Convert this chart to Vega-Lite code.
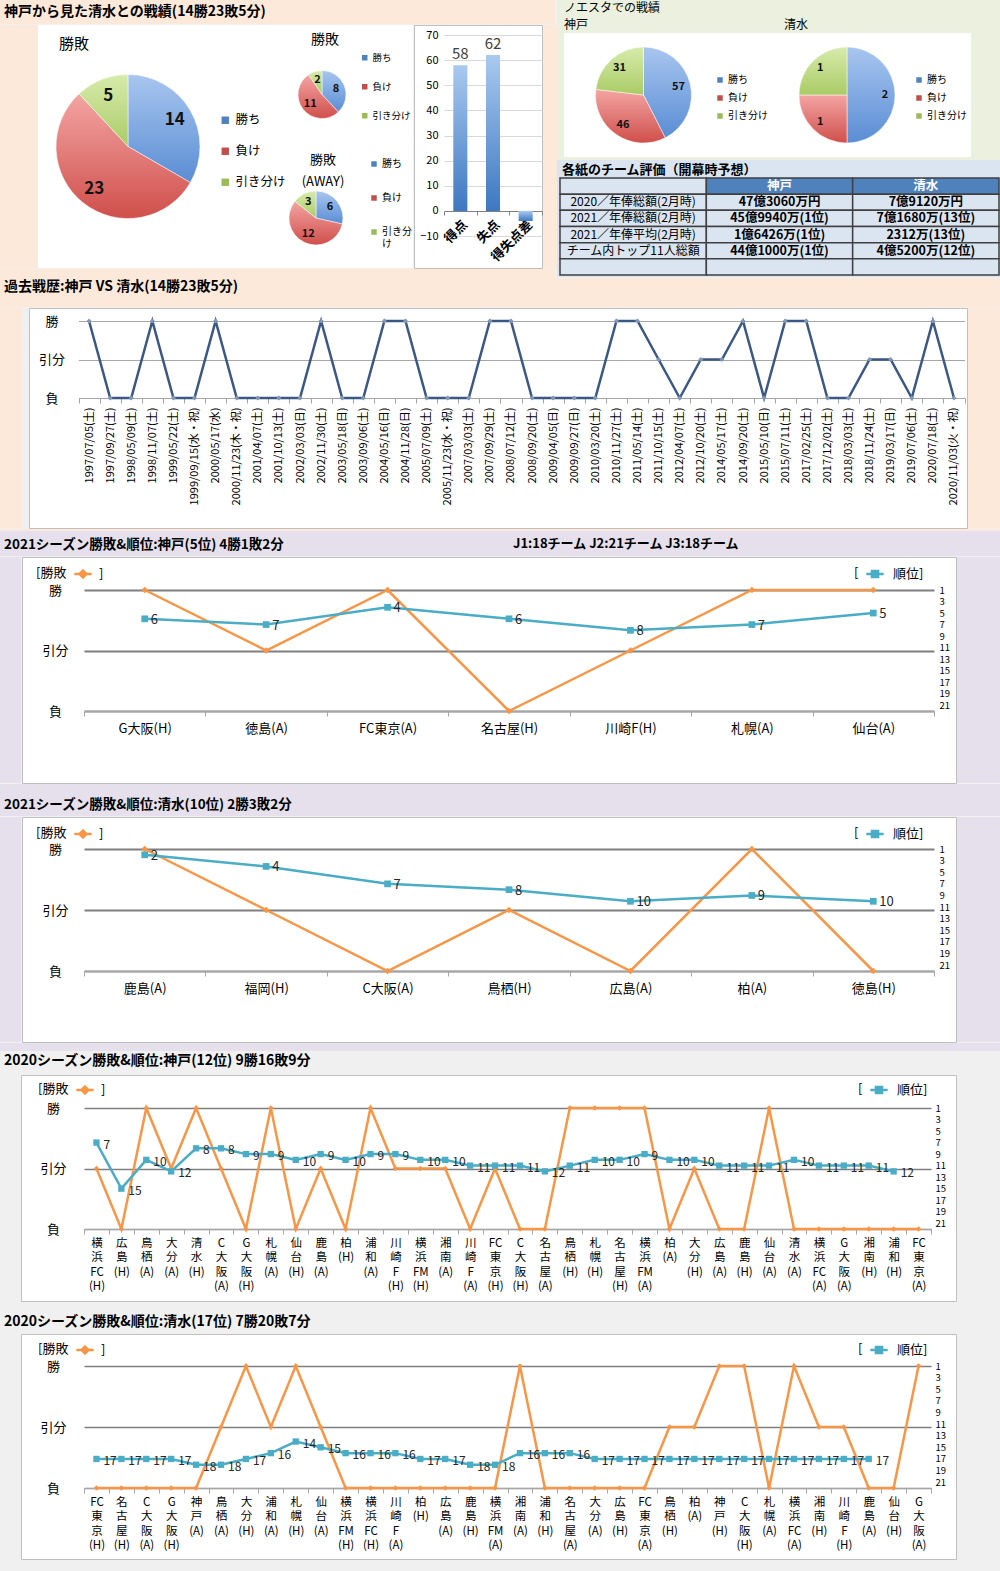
{
"$schema":"https://vega.github.io/schema/vega-lite/v6.json",
"background":"#f0f0f0",
"padding":0,
"spacing":0,
"resolve":{"scale":{"color":"independent","theta":"independent"}},
"config":{
  "font":"Noto Sans CJK JP",
  "view":{"stroke":null},
  "axis":{"labelColor":"#000","domainColor":"#a6a6a6","tickColor":"#a6a6a6"},
  "legend":{"labelColor":"#000","titleColor":"#000","titleFontWeight":"normal","padding":0},
  "title":{"color":"#000","fontWeight":"bold","fontSize":14,"anchor":"start","frame":"group","subtitleColor":"#000"}
},
"vconcat":[
 {"hconcat":[
   {"vconcat":[
     {"width":555,"height":24,"data":{"values":[]},"mark":"point","view":{"fill":"#fce9da","stroke":null},
      "title":{"text":"神戸から見た清水との戦績(14勝23敗5分)","offset":-19,"dx":4,"fontSize":14}},
     {"hconcat":[
       {"width":38,"height":243,"data":{"values":[]},"mark":"point","view":{"fill":"#fce9da","stroke":null}},
       {"width":180,"height":243,"view":{"fill":"white","stroke":null},
        "title":{"text":"勝敗","offset":-27,"dx":21,"fontSize":15,"fontWeight":"normal"},
        "data":{"values":[{"k":"勝ち","n":14},{"k":"負け","n":23},{"k":"引き分け","n":5}]},
        "transform":[{"window":[{"op":"row_number","as":"i"}]}],
        "encoding":{"theta":{"field":"n","type":"quantitative","stack":true},"order":{"field":"i","type":"quantitative"},"detail":{"field":"k"}},
        "layer":[
          {"mark":{"type":"arc","outerRadius":72,"stroke":"white","strokeWidth":0.5},
           "encoding":{"color":{"condition":[
              {"test":"datum.k === '勝ち'","value":{"gradient":"linear","x1":0,"y1":0,"x2":0,"y2":1,"stops":[{"offset":0,"color":"#a8c6ef"},{"offset":1,"color":"#5a8dd4"}]}},
              {"test":"datum.k === '負け'","value":{"gradient":"linear","x1":0,"y1":0,"x2":0,"y2":1,"stops":[{"offset":0,"color":"#f3a5a3"},{"offset":1,"color":"#d04f4b"}]}}],
              "value":{"gradient":"linear","x1":0,"y1":0,"x2":0,"y2":1,"stops":[{"offset":0,"color":"#d7ebab"},{"offset":1,"color":"#aacb66"}]}}}},
          {"mark":{"type":"text","radius":54,"fontSize":17,"fontWeight":"bold","color":"#111"},
           "encoding":{"text":{"field":"n","type":"quantitative"}}}
        ]},
       {"width":69,"height":243,"view":{"fill":"white","stroke":null},
        "data":{"values":[{"k":"勝ち"},{"k":"負け"},{"k":"引き分け"}]},
        "mark":{"type":"text","text":""},
        "encoding":{"color":{"field":"k","type":"nominal","scale":{"domain":["勝ち","負け","引き分け"],"range":["#4f81bd","#c0504d","#9bbb59"]},
          "legend":{"orient":"none","legendX":1,"legendY":89,"title":null,"symbolType":"square","symbolSize":55,"labelFontSize":12.5,"rowPadding":18,"labelOffset":4}}}},
       {"vconcat":[
         {"hconcat":[
           {"vconcat":[
             {"width":70,"height":24,"data":{"values":[]},"mark":"point","view":{"fill":"white","stroke":null},
              "title":{"text":"勝敗","offset":-22,"dx":24,"fontSize":14,"fontWeight":"normal"}},
             {"width":70,"height":91,"view":{"fill":"white","stroke":null},
              "data":{"values":[{"k":"勝ち","n":8},{"k":"負け","n":11},{"k":"引き分け","n":2}]},
              "transform":[{"window":[{"op":"row_number","as":"i"}]}],
              "encoding":{"theta":{"field":"n","type":"quantitative","stack":true},"order":{"field":"i","type":"quantitative"},"detail":{"field":"k"}},
              "layer":[
                {"mark":{"type":"arc","outerRadius":24,"stroke":"white","strokeWidth":0.5},
                 "encoding":{"color":{"condition":[
                    {"test":"datum.k === '勝ち'","value":{"gradient":"linear","x1":0,"y1":0,"x2":0,"y2":1,"stops":[{"offset":0,"color":"#a8c6ef"},{"offset":1,"color":"#5a8dd4"}]}},
                    {"test":"datum.k === '負け'","value":{"gradient":"linear","x1":0,"y1":0,"x2":0,"y2":1,"stops":[{"offset":0,"color":"#f3a5a3"},{"offset":1,"color":"#d04f4b"}]}}],
                    "value":{"gradient":"linear","x1":0,"y1":0,"x2":0,"y2":1,"stops":[{"offset":0,"color":"#d7ebab"},{"offset":1,"color":"#aacb66"}]}}}},
                {"mark":{"type":"text","radius":15,"fontSize":11,"fontWeight":"bold","color":"#111"},
                 "encoding":{"text":{"field":"n","type":"quantitative"}}}
              ]}
           ],"spacing":0,"resolve":{"scale":{"color":"independent","theta":"independent"}}},
           {"width":56,"height":115,"view":{"fill":"white","stroke":null},
            "data":{"values":[{"k":"勝ち"},{"k":"負け"},{"k":"引き分け"}]},
            "mark":{"type":"text","text":""},
            "encoding":{"color":{"field":"k","type":"nominal","scale":{"domain":["勝ち","負け","引き分け"],"range":["#4f81bd","#c0504d","#9bbb59"]},
              "legend":{"orient":"none","legendX":3,"legendY":28,"title":null,"symbolType":"square","symbolSize":30,"labelFontSize":9.5,"rowPadding":18,"labelOffset":3}}}}
         ],"spacing":0,"resolve":{"scale":{"color":"independent","theta":"independent"}}},
         {"hconcat":[
           {"vconcat":[
             {"width":58,"height":28,"data":{"values":[]},"mark":"point","view":{"fill":"white","stroke":null},
              "title":{"text":"勝敗","anchor":"middle","offset":-27,"dx":7,"fontSize":13,"fontWeight":"normal"}},
             {"width":58,"height":100,"view":{"fill":"white","stroke":null},
              "title":{"text":"(AWAY)","anchor":"middle","offset":-21,"dx":7,"fontSize":13,"fontWeight":"normal"},
              "data":{"values":[{"k":"勝ち","n":6},{"k":"負け","n":12},{"k":"引き分け","n":3}]},
              "transform":[{"window":[{"op":"row_number","as":"i"}]}],
              "encoding":{"theta":{"field":"n","type":"quantitative","stack":true},"order":{"field":"i","type":"quantitative"},"detail":{"field":"k"}},
              "layer":[
                {"mark":{"type":"arc","outerRadius":27,"stroke":"white","strokeWidth":0.5},
                 "encoding":{"color":{"condition":[
                    {"test":"datum.k === '勝ち'","value":{"gradient":"linear","x1":0,"y1":0,"x2":0,"y2":1,"stops":[{"offset":0,"color":"#a8c6ef"},{"offset":1,"color":"#5a8dd4"}]}},
                    {"test":"datum.k === '負け'","value":{"gradient":"linear","x1":0,"y1":0,"x2":0,"y2":1,"stops":[{"offset":0,"color":"#f3a5a3"},{"offset":1,"color":"#d04f4b"}]}}],
                    "value":{"gradient":"linear","x1":0,"y1":0,"x2":0,"y2":1,"stops":[{"offset":0,"color":"#d7ebab"},{"offset":1,"color":"#aacb66"}]}}}},
                {"mark":{"type":"text","radius":18,"fontSize":11,"fontWeight":"bold","color":"#111"},
                 "encoding":{"text":{"field":"n","type":"quantitative"}}}
              ]}
           ],"spacing":0,"resolve":{"scale":{"color":"independent","theta":"independent"}}},
           {"width":68,"height":128,"view":{"fill":"white","stroke":null},
            "data":{"values":[{"k":"勝ち"},{"k":"負け"},{"k":"引き分け"}]},
            "mark":{"type":"text","text":""},
            "encoding":{"color":{"field":"k","type":"nominal","scale":{"domain":["勝ち","負け","引き分け"],"range":["#4f81bd","#c0504d","#9bbb59"]},
              "legend":{"orient":"none","legendX":24,"legendY":19,"title":null,"symbolType":"square","symbolSize":30,"labelFontSize":10,"rowPadding":24,"labelOffset":3,"labelExpr":"datum.label == '引き分け' ? ['引き分','け'] : datum.label"}}}}
         ],"spacing":0,"resolve":{"scale":{"color":"independent","theta":"independent"}}}
       ],"spacing":0,"resolve":{"scale":{"color":"independent","theta":"independent"}}},
       {"width":128,"height":243,"view":{"fill":"white","stroke":"#bfbfbf"},
        "data":{"values":[{"c":"得点","v":58},{"c":"失点","v":62},{"c":"得失点差","v":-4}]},
        "encoding":{
          "x":{"field":"c","type":"nominal","sort":null,"scale":{"type":"band","range":[30,128],"paddingInner":0,"paddingOuter":0},
               "axis":{"title":null,"offset":-57,"labelAngle":-45,"labelFontSize":13,"labelFontWeight":"bold","labelPadding":3,"tickBand":"extent","tickSize":4,"domainColor":"#808080","tickColor":"#808080","grid":false,"labelOverlap":false}},
          "y":{"field":"v","type":"quantitative","scale":{"domain":[-10,70],"range":[211,10],"nice":false,"zero":false},
               "axis":{"title":null,"offset":-30,"values":[-10,0,10,20,30,40,50,60,70],"labelFontSize":11,"labelPadding":6,"ticks":false,"domain":false,"gridColor":"#d9d9d9","labelOverlap":false}}
        },
        "layer":[
          {"mark":{"type":"bar","width":{"band":0.43},"color":{"gradient":"linear","x1":0,"y1":0,"x2":0,"y2":1,"stops":[{"offset":0,"color":"#a9c9f0"},{"offset":1,"color":"#3d78c1"}]}}},
          {"transform":[{"filter":"datum.v > 0"}],"mark":{"type":"text","dy":-11,"fontSize":15,"color":"#404040"},"encoding":{"text":{"field":"v","type":"quantitative"}}}
        ]},
       {"width":14,"height":243,"data":{"values":[]},"mark":"point","view":{"fill":"#fce9da","stroke":null}}
     ],"spacing":0,"resolve":{"scale":{"color":"independent","theta":"independent"}}},
     {"width":555,"height":9,"data":{"values":[]},"mark":"point","view":{"fill":"#fce9da","stroke":null}}
   ],"spacing":0,"resolve":{"scale":{"color":"independent","theta":"independent"}}},
   {"vconcat":[
     {"hconcat":[
       {"width":223,"height":33,"data":{"values":[]},"mark":"point","view":{"fill":"#ebf1de","stroke":null},
        "title":{"text":"ノエスタでの戦績","subtitle":"神戸","offset":-32,"dx":7,"fontSize":12,"fontWeight":"normal","subtitleFontSize":12,"subtitlePadding":5}},
       {"width":222,"height":33,"data":{"values":[]},"mark":"point","view":{"fill":"#ebf1de","stroke":null},
        "title":{"text":"清水","offset":-32,"dx":4,"fontSize":12,"fontWeight":"normal"}}
     ],"spacing":0,"resolve":{"scale":{"color":"independent","theta":"independent"}}},
     {"hconcat":[
       {"width":7,"height":124,"data":{"values":[]},"mark":"point","view":{"fill":"#ebf1de","stroke":null}},
       {"width":8,"height":124,"data":{"values":[]},"mark":"point","view":{"fill":"white","stroke":null}},
       {"width":143,"height":124,"view":{"fill":"white","stroke":null},
        "data":{"values":[{"k":"勝ち","n":57},{"k":"負け","n":46},{"k":"引き分け","n":31}]},
        "transform":[{"window":[{"op":"row_number","as":"i"}]}],
        "encoding":{"theta":{"field":"n","type":"quantitative","stack":true},"order":{"field":"i","type":"quantitative"},"detail":{"field":"k"}},
        "layer":[
          {"mark":{"type":"arc","outerRadius":48,"stroke":"white","strokeWidth":0.5},
           "encoding":{"color":{"condition":[
              {"test":"datum.k === '勝ち'","value":{"gradient":"linear","x1":0,"y1":0,"x2":0,"y2":1,"stops":[{"offset":0,"color":"#a8c6ef"},{"offset":1,"color":"#5a8dd4"}]}},
              {"test":"datum.k === '負け'","value":{"gradient":"linear","x1":0,"y1":0,"x2":0,"y2":1,"stops":[{"offset":0,"color":"#f3a5a3"},{"offset":1,"color":"#d04f4b"}]}}],
              "value":{"gradient":"linear","x1":0,"y1":0,"x2":0,"y2":1,"stops":[{"offset":0,"color":"#d7ebab"},{"offset":1,"color":"#aacb66"}]}}}},
          {"mark":{"type":"text","radius":36,"fontSize":11,"fontWeight":"bold","color":"#111"},
           "encoding":{"text":{"field":"n","type":"quantitative"}}}
        ]},
       {"width":65,"height":124,"view":{"fill":"white","stroke":null},
        "data":{"values":[{"k":"勝ち"},{"k":"負け"},{"k":"引き分け"}]},
        "mark":{"type":"text","text":""},
        "encoding":{"color":{"field":"k","type":"nominal","scale":{"domain":["勝ち","負け","引き分け"],"range":["#4f81bd","#c0504d","#9bbb59"]},
          "legend":{"orient":"none","legendX":0,"legendY":42,"title":null,"symbolType":"square","symbolSize":30,"labelFontSize":10,"rowPadding":8,"labelOffset":3}}}},
       {"width":134,"height":124,"view":{"fill":"white","stroke":null},
        "data":{"values":[{"k":"勝ち","n":2},{"k":"負け","n":1},{"k":"引き分け","n":1}]},
        "transform":[{"window":[{"op":"row_number","as":"i"}]}],
        "encoding":{"theta":{"field":"n","type":"quantitative","stack":true},"order":{"field":"i","type":"quantitative"},"detail":{"field":"k"}},
        "layer":[
          {"mark":{"type":"arc","outerRadius":48,"stroke":"white","strokeWidth":0.5},
           "encoding":{"color":{"condition":[
              {"test":"datum.k === '勝ち'","value":{"gradient":"linear","x1":0,"y1":0,"x2":0,"y2":1,"stops":[{"offset":0,"color":"#a8c6ef"},{"offset":1,"color":"#5a8dd4"}]}},
              {"test":"datum.k === '負け'","value":{"gradient":"linear","x1":0,"y1":0,"x2":0,"y2":1,"stops":[{"offset":0,"color":"#f3a5a3"},{"offset":1,"color":"#d04f4b"}]}}],
              "value":{"gradient":"linear","x1":0,"y1":0,"x2":0,"y2":1,"stops":[{"offset":0,"color":"#d7ebab"},{"offset":1,"color":"#aacb66"}]}}}},
          {"mark":{"type":"text","radius":38,"fontSize":11,"fontWeight":"bold","color":"#111"},
           "encoding":{"text":{"field":"n","type":"quantitative"}}}
        ]},
       {"width":57,"height":124,"view":{"fill":"white","stroke":null},
        "data":{"values":[{"k":"勝ち"},{"k":"負け"},{"k":"引き分け"}]},
        "mark":{"type":"text","text":""},
        "encoding":{"color":{"field":"k","type":"nominal","scale":{"domain":["勝ち","負け","引き分け"],"range":["#4f81bd","#c0504d","#9bbb59"]},
          "legend":{"orient":"none","legendX":0,"legendY":42,"title":null,"symbolType":"square","symbolSize":30,"labelFontSize":10,"rowPadding":8,"labelOffset":3}}}},
       {"width":31,"height":124,"data":{"values":[]},"mark":"point","view":{"fill":"#ebf1de","stroke":null}}
     ],"spacing":0,"resolve":{"scale":{"color":"independent","theta":"independent"}}},
     {"width":445,"height":3,"data":{"values":[]},"mark":"point","view":{"fill":"#ebf1de","stroke":null}},
     {"width":445,"height":117,"view":{"fill":"#dbe5f1","stroke":null},
      "title":{"text":"各紙のチーム評価（開幕時予想）","offset":-17,"dx":5,"fontSize":13},
      "data":{"values":[
        {"row":"h","col":"c1","t":""},{"row":"h","col":"c2","t":"神戸"},{"row":"h","col":"c3","t":"清水"},
        {"row":"r1","col":"c1","t":"2020／年俸総額(2月時)"},{"row":"r1","col":"c2","t":"47億3060万円"},{"row":"r1","col":"c3","t":"7億9120万円"},
        {"row":"r2","col":"c1","t":"2021／年俸総額(2月時)"},{"row":"r2","col":"c2","t":"45億9940万(1位)"},{"row":"r2","col":"c3","t":"7億1680万(13位)"},
        {"row":"r3","col":"c1","t":"2021／年俸平均(2月時)"},{"row":"r3","col":"c2","t":"1億6426万(1位)"},{"row":"r3","col":"c3","t":"2312万(13位)"},
        {"row":"r4","col":"c1","t":"チーム内トップ11人総額"},{"row":"r4","col":"c2","t":"44億1000万(1位)"},{"row":"r4","col":"c3","t":"4億5200万(12位)"},
        {"row":"r5","col":"c1","t":""},{"row":"r5","col":"c2","t":""},{"row":"r5","col":"c3","t":""}
      ]},
      "encoding":{
        "x":{"field":"col","type":"nominal","scale":{"type":"band","domain":["c1","c2","c3"],"range":[3,442],"paddingInner":0,"paddingOuter":0},"axis":null},
        "y":{"field":"row","type":"nominal","scale":{"type":"band","domain":["h","r1","r2","r3","r4","r5"],"range":[18,115],"paddingInner":0,"paddingOuter":0},"axis":null}
      },
      "layer":[
        {"mark":{"type":"rect","stroke":"#404040","strokeWidth":1.5},
         "encoding":{"color":{"condition":{"test":"datum.row === 'h' && datum.col !== 'c1'","value":"#4f81bd"},"value":"#dbe5f1"}}},
        {"transform":[{"filter":"datum.col === 'c1'"}],"mark":{"type":"text","fontSize":12,"color":"#000"},"encoding":{"text":{"field":"t"}}},
        {"transform":[{"filter":"datum.col !== 'c1'"}],"mark":{"type":"text","fontSize":12.5,"fontWeight":"bold"},
         "encoding":{"text":{"field":"t"},"color":{"condition":{"test":"datum.row === 'h'","value":"white"},"value":"#000"}}}
      ]}
   ],"spacing":0,"resolve":{"scale":{"color":"independent","theta":"independent"}}}
 ],"spacing":0,"resolve":{"scale":{"color":"independent","theta":"independent"}}},

 {"width":1000,"height":29,"data":{"values":[]},"mark":"point","view":{"fill":"#fce9da","stroke":null},
  "title":{"text":"過去戦歴:神戸 VS 清水(14勝23敗5分)","offset":-16,"dx":4,"fontSize":14}},

 {"hconcat":[
   {"width":22,"height":220,"data":{"values":[]},"mark":"point","view":{"fill":"#fce9da","stroke":null}},
   {"width":938,"height":220,"view":{"fill":"white","stroke":"#bfbfbf"},
    "data":{"values":[
      {"d":"1997/07/05(土)","r":1},{"d":"1997/09/27(土)","r":-1},{"d":"1998/05/09(土)","r":-1},{"d":"1998/11/07(土)","r":1},
      {"d":"1999/05/22(土)","r":-1},{"d":"1999/09/15(水・祝)","r":-1},{"d":"2000/05/17(水)","r":1},{"d":"2000/11/23(木・祝)","r":-1},
      {"d":"2001/04/07(土)","r":-1},{"d":"2001/10/13(土)","r":-1},{"d":"2002/03/03(日)","r":-1},{"d":"2002/11/30(土)","r":1},
      {"d":"2003/05/18(日)","r":-1},{"d":"2003/09/06(土)","r":-1},{"d":"2004/05/16(日)","r":1},{"d":"2004/11/28(日)","r":1},
      {"d":"2005/07/09(土)","r":-1},{"d":"2005/11/23(水・祝)","r":-1},{"d":"2007/03/03(土)","r":-1},{"d":"2007/09/29(土)","r":1},
      {"d":"2008/07/12(土)","r":1},{"d":"2008/09/20(土)","r":-1},{"d":"2009/04/05(日)","r":-1},{"d":"2009/09/27(日)","r":-1},
      {"d":"2010/03/20(土)","r":-1},{"d":"2010/11/27(土)","r":1},{"d":"2011/05/14(土)","r":1},{"d":"2011/10/15(土)","r":0},
      {"d":"2012/04/07(土)","r":-1},{"d":"2012/10/20(土)","r":0},{"d":"2014/05/17(土)","r":0},{"d":"2014/09/20(土)","r":1},
      {"d":"2015/05/10(日)","r":-1},{"d":"2015/07/11(土)","r":1},{"d":"2017/02/25(土)","r":1},{"d":"2017/12/02(土)","r":-1},
      {"d":"2018/03/03(土)","r":-1},{"d":"2018/11/24(土)","r":0},{"d":"2019/03/17(日)","r":0},{"d":"2019/07/06(土)","r":-1},
      {"d":"2020/07/18(土)","r":1},{"d":"2020/11/03(火・祝)","r":-1}
    ]},
    "encoding":{
      "x":{"field":"d","type":"nominal","sort":null,"scale":{"type":"band","range":[49.5,935.5],"paddingInner":0,"paddingOuter":0},
           "axis":{"title":null,"offset":-130,"labelAngle":-90,"labelFontSize":11,"labelPadding":4,"tickBand":"extent","tickSize":5,"labelOverlap":false,"grid":false}},
      "y":{"field":"r","type":"quantitative","scale":{"domain":[-1,1],"range":[90,13],"nice":false,"zero":false},
           "axis":{"title":null,"offset":-49.5,"values":[-1,0,1],"labelExpr":"datum.value == 1 ? '勝' : datum.value == 0 ? '引分' : '負'","labelFontSize":13,"labelAlign":"center","labelPadding":27,"ticks":false,"domain":false,"gridColor":"#a6a6a6","gridWidth":1,"labelOverlap":false}}
    },
    "layer":[
      {"mark":{"type":"line","color":"#3b5783","strokeWidth":2.5}},
      {"mark":{"type":"point","shape":"diamond","filled":true,"size":25,"color":"#8197b5","opacity":1}}
    ]},
   {"width":40,"height":220,"data":{"values":[]},"mark":"point","view":{"fill":"#fce9da","stroke":null}}
 ],"spacing":0,"resolve":{"scale":{"color":"independent","theta":"independent"}}},

 {"width":1000,"height":2,"data":{"values":[]},"mark":"point","view":{"fill":"#fce9da","stroke":null}},

 {"hconcat":[
   {"width":500,"height":25,"data":{"values":[]},"mark":"point","view":{"fill":"#e5e0ec","stroke":null},
    "title":{"text":"2021シーズン勝敗&順位:神戸(5位) 4勝1敗2分","offset":-20,"dx":4,"fontSize":13.5}},
   {"width":500,"height":25,"data":{"values":[]},"mark":"point","view":{"fill":"#e5e0ec","stroke":null},
    "title":{"text":"J1:18チーム  J2:21チーム  J3:18チーム","offset":-20,"dx":13,"fontSize":13}}
 ],"spacing":0,"resolve":{"scale":{"color":"independent","theta":"independent"}}},

 {"hconcat":[
   {"width":21,"height":226,"data":{"values":[]},"mark":"point","view":{"fill":"#e5e0ec","stroke":null}},
   {"width":934,"height":226,"view":{"fill":"white","stroke":"#bfbfbf"},
    "data":{"values":[
      {"g":"G大阪(H)","r":1,"k":6},{"g":"徳島(A)","r":0,"k":7},{"g":"FC東京(A)","r":1,"k":4},{"g":"名古屋(H)","r":-1,"k":6},
      {"g":"川崎F(H)","r":0,"k":8},{"g":"札幌(A)","r":1,"k":7},{"g":"仙台(A)","r":1,"k":5}
    ]},
    "encoding":{"x":{"field":"g","type":"nominal","sort":null,"scale":{"type":"band","range":[62,912],"paddingInner":0,"paddingOuter":0},
      "axis":{"title":null,"offset":-72,"labelAngle":0,"labelFontSize":13,"labelPadding":6,"tickBand":"extent","tickSize":5,"grid":false,"labelOverlap":false}}},
    "layer":[
      {"encoding":{
         "y":{"field":"r","type":"quantitative","scale":{"domain":[-1,1],"range":[154,33],"nice":false,"zero":false},
              "axis":{"title":null,"orient":"left","offset":-62,"values":[-1,0,1],"labelExpr":"datum.value == 1 ? '勝' : datum.value == 0 ? '引分' : '負'","labelFontSize":13,"labelAlign":"center","labelPadding":29,"ticks":false,"domain":false,"gridColor":"#7f7f7f","gridWidth":2,"labelOverlap":false}},
         "color":{"datum":"勝敗","type":"nominal","scale":{"range":["#f79646"]},
              "legend":{"orient":"none","legendX":14,"legendY":7,"title":"[勝敗","titleOrient":"left","titleFontSize":13,"titlePadding":6,"labelExpr":"']'","labelFontSize":13,"labelOffset":6,"symbolType":"M-1,0H1M0,-0.4L0.4,0L0,0.4L-0.4,0Z","symbolSize":300,"symbolStrokeWidth":2.5,"symbolStrokeColor":"#f79646","symbolFillColor":"#f79646"}}},
       "layer":[{"mark":{"type":"line","strokeWidth":2.5}},{"mark":{"type":"point","shape":"diamond","filled":true,"size":45,"opacity":1}}]},
      {"transform":[{"filter":"isValid(datum.k)"}],
       "encoding":{
         "y":{"field":"k","type":"quantitative","scale":{"domain":[1,22],"reverse":true,"range":[154,33],"nice":false,"zero":false},
              "axis":{"title":null,"orient":"right","offset":-22,"values":[1,3,5,7,9,11,13,15,17,19,21],"labelFontSize":9.5,"labelPadding":5,"ticks":false,"domain":false,"gridColor":"#a6a6a6","gridWidth":1,"labelOverlap":false}},
         "color":{"datum":"順位","type":"nominal","scale":{"range":["#4bacc6"]},
              "legend":{"orient":"none","legendX":832,"legendY":7,"title":"[","titleOrient":"left","titleFontSize":13,"titlePadding":6,"labelExpr":"'順位]'","labelFontSize":13,"labelOffset":8,"symbolType":"M-1,0H1M-0.35,-0.35H0.35V0.35H-0.35Z","symbolSize":300,"symbolStrokeWidth":2.5,"symbolStrokeColor":"#4bacc6","symbolFillColor":"#4bacc6"}}},
       "layer":[{"mark":{"type":"line","strokeWidth":2.5}},{"mark":{"type":"point","shape":"square","filled":true,"size":45,"opacity":1}},
                {"mark":{"type":"text","align":"left","dx":6,"dy":1,"fontSize":13},"encoding":{"text":{"field":"k","type":"quantitative"},"color":{"value":"#262626"}}}]}
    ],
    "resolve":{"scale":{"y":"independent","color":"independent"}}},
   {"width":45,"height":226,"data":{"values":[]},"mark":"point","view":{"fill":"#e5e0ec","stroke":null}}
 ],"spacing":0,"resolve":{"scale":{"color":"independent","theta":"independent"}}},

 {"width":1000,"height":32,"data":{"values":[]},"mark":"point","view":{"fill":"#e5e0ec","stroke":null},
  "title":{"text":"2021シーズン勝敗&順位:清水(10位) 2勝3敗2分","offset":-27,"dx":4,"fontSize":13.5}},

 {"hconcat":[
   {"width":21,"height":225,"data":{"values":[]},"mark":"point","view":{"fill":"#e5e0ec","stroke":null}},
   {"width":934,"height":225,"view":{"fill":"white","stroke":"#bfbfbf"},
    "data":{"values":[
      {"g":"鹿島(A)","r":1,"k":2},{"g":"福岡(H)","r":0,"k":4},{"g":"C大阪(A)","r":-1,"k":7},{"g":"鳥栖(H)","r":0,"k":8},
      {"g":"広島(A)","r":-1,"k":10},{"g":"柏(A)","r":1,"k":9},{"g":"徳島(H)","r":-1,"k":10}
    ]},
    "encoding":{"x":{"field":"g","type":"nominal","sort":null,"scale":{"type":"band","range":[62,912],"paddingInner":0,"paddingOuter":0},
      "axis":{"title":null,"offset":-71,"labelAngle":0,"labelFontSize":13,"labelPadding":6,"tickBand":"extent","tickSize":5,"grid":false,"labelOverlap":false}}},
    "layer":[
      {"encoding":{
         "y":{"field":"r","type":"quantitative","scale":{"domain":[-1,1],"range":[154,32],"nice":false,"zero":false},
              "axis":{"title":null,"orient":"left","offset":-62,"values":[-1,0,1],"labelExpr":"datum.value == 1 ? '勝' : datum.value == 0 ? '引分' : '負'","labelFontSize":13,"labelAlign":"center","labelPadding":29,"ticks":false,"domain":false,"gridColor":"#7f7f7f","gridWidth":2,"labelOverlap":false}},
         "color":{"datum":"勝敗","type":"nominal","scale":{"range":["#f79646"]},
              "legend":{"orient":"none","legendX":14,"legendY":7,"title":"[勝敗","titleOrient":"left","titleFontSize":13,"titlePadding":6,"labelExpr":"']'","labelFontSize":13,"labelOffset":6,"symbolType":"M-1,0H1M0,-0.4L0.4,0L0,0.4L-0.4,0Z","symbolSize":300,"symbolStrokeWidth":2.5,"symbolStrokeColor":"#f79646","symbolFillColor":"#f79646"}}},
       "layer":[{"mark":{"type":"line","strokeWidth":2.5}},{"mark":{"type":"point","shape":"diamond","filled":true,"size":45,"opacity":1}}]},
      {"transform":[{"filter":"isValid(datum.k)"}],
       "encoding":{
         "y":{"field":"k","type":"quantitative","scale":{"domain":[1,22],"reverse":true,"range":[154,32],"nice":false,"zero":false},
              "axis":{"title":null,"orient":"right","offset":-22,"values":[1,3,5,7,9,11,13,15,17,19,21],"labelFontSize":9.5,"labelPadding":5,"ticks":false,"domain":false,"gridColor":"#a6a6a6","gridWidth":1,"labelOverlap":false}},
         "color":{"datum":"順位","type":"nominal","scale":{"range":["#4bacc6"]},
              "legend":{"orient":"none","legendX":832,"legendY":7,"title":"[","titleOrient":"left","titleFontSize":13,"titlePadding":6,"labelExpr":"'順位]'","labelFontSize":13,"labelOffset":8,"symbolType":"M-1,0H1M-0.35,-0.35H0.35V0.35H-0.35Z","symbolSize":300,"symbolStrokeWidth":2.5,"symbolStrokeColor":"#4bacc6","symbolFillColor":"#4bacc6"}}},
       "layer":[{"mark":{"type":"line","strokeWidth":2.5}},{"mark":{"type":"point","shape":"square","filled":true,"size":45,"opacity":1}},
                {"mark":{"type":"text","align":"left","dx":6,"dy":1,"fontSize":13},"encoding":{"text":{"field":"k","type":"quantitative"},"color":{"value":"#262626"}}}]}
    ],
    "resolve":{"scale":{"y":"independent","color":"independent"}}},
   {"width":45,"height":225,"data":{"values":[]},"mark":"point","view":{"fill":"#e5e0ec","stroke":null}}
 ],"spacing":0,"resolve":{"scale":{"color":"independent","theta":"independent"}}},

 {"width":1000,"height":8,"data":{"values":[]},"mark":"point","view":{"fill":"#e5e0ec","stroke":null}},
 {"width":1000,"height":23,"data":{"values":[]},"mark":"point","view":{"fill":"#f0f0f0","stroke":null},
  "title":{"text":"2020シーズン勝敗&順位:神戸(12位) 9勝16敗9分","offset":-17,"dx":4,"fontSize":14}},

 {"hconcat":[
   {"width":20,"height":226,"data":{"values":[]},"mark":"point","view":{"fill":"#f0f0f0","stroke":null}},
   {"width":935,"height":226,"view":{"fill":"white","stroke":"#bfbfbf"},
    "data":{"values":[
      {"g":"横浜FC(H)","r":0,"k":7},{"g":"広島(H)","r":-1,"k":15},{"g":"鳥栖(A)","r":1,"k":10},{"g":"大分(A)","r":0,"k":12},
      {"g":"清水(H)","r":1,"k":8},{"g":"C大阪(A)","r":0,"k":8},{"g":"G大阪(H)","r":-1,"k":9},{"g":"札幌(A)","r":1,"k":9},
      {"g":"仙台(H)","r":-1,"k":10},{"g":"鹿島(A)","r":0,"k":9},{"g":"柏(H)","r":-1,"k":10},{"g":"浦和(A)","r":1,"k":9},
      {"g":"川崎F(H)","r":0,"k":9},{"g":"横浜FM(H)","r":0,"k":10},{"g":"湘南(A)","r":0,"k":10},{"g":"川崎F(A)","r":-1,"k":11},
      {"g":"FC東京(H)","r":0,"k":11},{"g":"C大阪(H)","r":-1,"k":11},{"g":"名古屋(A)","r":-1,"k":12},{"g":"鳥栖(H)","r":1,"k":11},
      {"g":"札幌(H)","r":1,"k":10},{"g":"名古屋(H)","r":1,"k":10},{"g":"横浜FM(A)","r":1,"k":9},{"g":"柏(A)","r":-1,"k":10},
      {"g":"大分(H)","r":0,"k":10},{"g":"広島(A)","r":-1,"k":11},{"g":"鹿島(H)","r":-1,"k":11},{"g":"仙台(A)","r":1,"k":11},
      {"g":"清水(A)","r":-1,"k":10},{"g":"横浜FC(A)","r":-1,"k":11},{"g":"G大阪(A)","r":-1,"k":11},{"g":"湘南(H)","r":-1,"k":11},
      {"g":"浦和(H)","r":-1,"k":12},{"g":"FC東京(A)","r":-1,"k":null}
    ]},
    "encoding":{"x":{"field":"g","type":"nominal","sort":null,"scale":{"type":"band","range":[63,910],"paddingInner":0,"paddingOuter":0},
      "axis":{"title":null,"offset":-72,"labelAngle":0,"labelFontSize":11.5,"labelLineHeight":14.5,"labelPadding":3,"tickBand":"extent","tickSize":5,"grid":false,"labelOverlap":false,
              "labelExpr":"split(replace(replace(replace(replace(datum.label, regexp('([^ -~])','g'), '|$1|'), regexp('[(]','g'), '|('), regexp('[|]+','g'), '|'), regexp('^[|]|[|]$','g'), ''), '|')"}}},
    "layer":[
      {"encoding":{
         "y":{"field":"r","type":"quantitative","scale":{"domain":[-1,1],"range":[154,33],"nice":false,"zero":false},
              "axis":{"title":null,"orient":"left","offset":-63,"values":[-1,0,1],"labelExpr":"datum.value == 1 ? '勝' : datum.value == 0 ? '引分' : '負'","labelFontSize":13,"labelAlign":"center","labelPadding":31,"ticks":false,"domain":false,"gridColor":"#7f7f7f","gridWidth":1.5,"labelOverlap":false}},
         "color":{"datum":"勝敗","type":"nominal","scale":{"range":["#f79646"]},
              "legend":{"orient":"none","legendX":17,"legendY":5,"title":"[勝敗","titleOrient":"left","titleFontSize":13,"titlePadding":6,"labelExpr":"']'","labelFontSize":13,"labelOffset":6,"symbolType":"M-1,0H1M0,-0.4L0.4,0L0,0.4L-0.4,0Z","symbolSize":300,"symbolStrokeWidth":2.5,"symbolStrokeColor":"#f79646","symbolFillColor":"#f79646"}}},
       "layer":[{"mark":{"type":"line","strokeWidth":2.5}},{"mark":{"type":"point","shape":"diamond","filled":true,"size":30,"opacity":1}}]},
      {"transform":[{"filter":"isValid(datum.k)"}],
       "encoding":{
         "y":{"field":"k","type":"quantitative","scale":{"domain":[1,22],"reverse":true,"range":[154,33],"nice":false,"zero":false},
              "axis":{"title":null,"orient":"right","offset":-25,"values":[1,3,5,7,9,11,13,15,17,19,21],"labelFontSize":9.5,"labelPadding":4,"ticks":false,"domain":false,"gridColor":"#a6a6a6","gridWidth":1,"labelOverlap":false}},
         "color":{"datum":"順位","type":"nominal","scale":{"range":["#4bacc6"]},
              "legend":{"orient":"none","legendX":837,"legendY":5,"title":"[","titleOrient":"left","titleFontSize":13,"titlePadding":6,"labelExpr":"'順位]'","labelFontSize":13,"labelOffset":8,"symbolType":"M-1,0H1M-0.35,-0.35H0.35V0.35H-0.35Z","symbolSize":300,"symbolStrokeWidth":2.5,"symbolStrokeColor":"#4bacc6","symbolFillColor":"#4bacc6"}}},
       "layer":[{"mark":{"type":"line","strokeWidth":2.5}},{"mark":{"type":"point","shape":"square","filled":true,"size":40,"opacity":1}},
                {"mark":{"type":"text","align":"left","dx":7,"dy":2,"fontSize":12},"encoding":{"text":{"field":"k","type":"quantitative"},"color":{"value":"#262626"}}}]}
    ],
    "resolve":{"scale":{"y":"independent","color":"independent"}}},
   {"width":45,"height":226,"data":{"values":[]},"mark":"point","view":{"fill":"#f0f0f0","stroke":null}}
 ],"spacing":0,"resolve":{"scale":{"color":"independent","theta":"independent"}}},

 {"width":1000,"height":31,"data":{"values":[]},"mark":"point","view":{"fill":"#f0f0f0","stroke":null},
  "title":{"text":"2020シーズン勝敗&順位:清水(17位) 7勝20敗7分","offset":-27,"dx":4,"fontSize":14}},

 {"hconcat":[
   {"width":20,"height":225,"data":{"values":[]},"mark":"point","view":{"fill":"#f0f0f0","stroke":null}},
   {"width":935,"height":225,"view":{"fill":"white","stroke":"#bfbfbf"},
    "data":{"values":[
      {"g":"FC東京(H)","r":-1,"k":17},{"g":"名古屋(H)","r":-1,"k":17},{"g":"C大阪(A)","r":-1,"k":17},{"g":"G大阪(H)","r":-1,"k":17},
      {"g":"神戸(A)","r":-1,"k":18},{"g":"鳥栖(A)","r":0,"k":18},{"g":"大分(H)","r":1,"k":17},{"g":"浦和(A)","r":0,"k":16},
      {"g":"札幌(H)","r":1,"k":14},{"g":"仙台(A)","r":0,"k":15},{"g":"横浜FM(H)","r":-1,"k":16},{"g":"横浜FC(H)","r":-1,"k":16},
      {"g":"川崎F(A)","r":-1,"k":16},{"g":"柏(H)","r":-1,"k":17},{"g":"広島(A)","r":-1,"k":17},{"g":"鹿島(H)","r":-1,"k":18},
      {"g":"横浜FM(A)","r":-1,"k":18},{"g":"湘南(A)","r":1,"k":16},{"g":"浦和(H)","r":-1,"k":16},{"g":"名古屋(A)","r":-1,"k":16},
      {"g":"大分(A)","r":-1,"k":17},{"g":"広島(H)","r":-1,"k":17},{"g":"FC東京(A)","r":-1,"k":17},{"g":"鳥栖(H)","r":0,"k":17},
      {"g":"柏(A)","r":0,"k":17},{"g":"神戸(H)","r":1,"k":17},{"g":"C大阪(H)","r":1,"k":17},{"g":"札幌(A)","r":-1,"k":17},
      {"g":"横浜FC(A)","r":1,"k":17},{"g":"湘南(H)","r":0,"k":17},{"g":"川崎F(H)","r":0,"k":17},{"g":"鹿島(A)","r":-1,"k":17},
      {"g":"仙台(H)","r":-1,"k":null},{"g":"G大阪(A)","r":1,"k":null}
    ]},
    "encoding":{"x":{"field":"g","type":"nominal","sort":null,"scale":{"type":"band","range":[63,910],"paddingInner":0,"paddingOuter":0},
      "axis":{"title":null,"offset":-71,"labelAngle":0,"labelFontSize":11.5,"labelLineHeight":14.5,"labelPadding":3,"tickBand":"extent","tickSize":5,"grid":false,"labelOverlap":false,
              "labelExpr":"split(replace(replace(replace(replace(datum.label, regexp('([^ -~])','g'), '|$1|'), regexp('[(]','g'), '|('), regexp('[|]+','g'), '|'), regexp('^[|]|[|]$','g'), ''), '|')"}}},
    "layer":[
      {"encoding":{
         "y":{"field":"r","type":"quantitative","scale":{"domain":[-1,1],"range":[154,32],"nice":false,"zero":false},
              "axis":{"title":null,"orient":"left","offset":-63,"values":[-1,0,1],"labelExpr":"datum.value == 1 ? '勝' : datum.value == 0 ? '引分' : '負'","labelFontSize":13,"labelAlign":"center","labelPadding":31,"ticks":false,"domain":false,"gridColor":"#7f7f7f","gridWidth":1.5,"labelOverlap":false}},
         "color":{"datum":"勝敗","type":"nominal","scale":{"range":["#f79646"]},
              "legend":{"orient":"none","legendX":17,"legendY":6,"title":"[勝敗","titleOrient":"left","titleFontSize":13,"titlePadding":6,"labelExpr":"']'","labelFontSize":13,"labelOffset":6,"symbolType":"M-1,0H1M0,-0.4L0.4,0L0,0.4L-0.4,0Z","symbolSize":300,"symbolStrokeWidth":2.5,"symbolStrokeColor":"#f79646","symbolFillColor":"#f79646"}}},
       "layer":[{"mark":{"type":"line","strokeWidth":2.5}},{"mark":{"type":"point","shape":"diamond","filled":true,"size":30,"opacity":1}}]},
      {"transform":[{"filter":"isValid(datum.k)"}],
       "encoding":{
         "y":{"field":"k","type":"quantitative","scale":{"domain":[1,22],"reverse":true,"range":[154,32],"nice":false,"zero":false},
              "axis":{"title":null,"orient":"right","offset":-25,"values":[1,3,5,7,9,11,13,15,17,19,21],"labelFontSize":9.5,"labelPadding":4,"ticks":false,"domain":false,"gridColor":"#a6a6a6","gridWidth":1,"labelOverlap":false}},
         "color":{"datum":"順位","type":"nominal","scale":{"range":["#4bacc6"]},
              "legend":{"orient":"none","legendX":837,"legendY":6,"title":"[","titleOrient":"left","titleFontSize":13,"titlePadding":6,"labelExpr":"'順位]'","labelFontSize":13,"labelOffset":8,"symbolType":"M-1,0H1M-0.35,-0.35H0.35V0.35H-0.35Z","symbolSize":300,"symbolStrokeWidth":2.5,"symbolStrokeColor":"#4bacc6","symbolFillColor":"#4bacc6"}}},
       "layer":[{"mark":{"type":"line","strokeWidth":2.5}},{"mark":{"type":"point","shape":"square","filled":true,"size":40,"opacity":1}},
                {"mark":{"type":"text","align":"left","dx":7,"dy":2,"fontSize":12},"encoding":{"text":{"field":"k","type":"quantitative"},"color":{"value":"#262626"}}}]}
    ],
    "resolve":{"scale":{"y":"independent","color":"independent"}}},
   {"width":45,"height":225,"data":{"values":[]},"mark":"point","view":{"fill":"#f0f0f0","stroke":null}}
 ],"spacing":0,"resolve":{"scale":{"color":"independent","theta":"independent"}}},

 {"width":1000,"height":13,"data":{"values":[]},"mark":"point","view":{"fill":"#f0f0f0","stroke":null}}
]
}
